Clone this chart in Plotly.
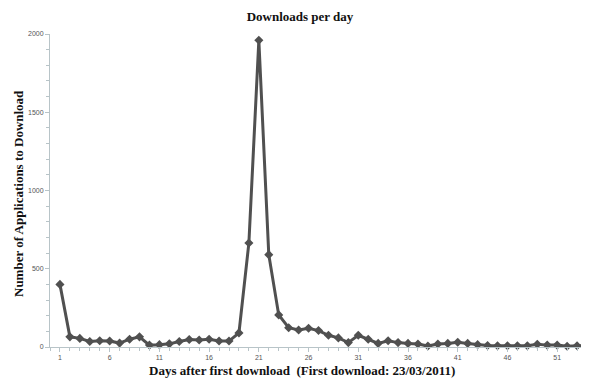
import plotly.graph_objects as go

days = list(range(1, 55))
downloads = [400, 65, 55, 35, 40, 38, 25, 50, 65, 12,
             15, 20, 35, 48, 45, 50, 38, 38, 90, 665,
             1960, 590, 205, 123, 109, 120, 105, 75, 58, 28,
             75, 50, 23, 40, 28, 23, 19, 6, 19, 23,
             30, 23, 15, 10, 8, 8, 8, 8, 18, 12,
             12, 5, 8, 8]

x_tickvals = [1, 6, 11, 16, 21, 26, 31, 36, 41, 46, 51]
y_tickvals = [0, 500, 1000, 1500, 2000]

# page has an 8px body margin; figure sized to fill the rest
W, H = 581, 372

fig = go.Figure()
fig.add_trace(go.Scatter(
    x=days, y=downloads, mode="lines+markers",
    line=dict(color="#505050", width=3),
    marker=dict(symbol="diamond", size=7, color="#505050"),
    cliponaxis=False,
))

tickfont = dict(family="Liberation Sans, Arial, sans-serif", size=7, color="#555555")
titlefont = dict(family="Liberation Serif, Times New Roman, serif", size=13, color="#111111")

fig.update_layout(
    width=W, height=H,
    margin=dict(l=42, r=0, t=26, b=33),
    paper_bgcolor="white", plot_bgcolor="white",
    showlegend=False,
    title=dict(text="<b>Downloads per day</b>", xref="container", x=292 / W, xanchor="center",
               yref="container", y=1 - 8 / H, yanchor="middle",
               font=dict(family="Liberation Serif, Times New Roman, serif", size=13, color="#111111")),
    xaxis=dict(range=[0, 54.2], tickvals=x_tickvals, ticks="outside", ticklen=4,
               tickcolor="#b8c4c8", showline=True, linecolor="#b8c4c8", linewidth=1,
               showgrid=False, zeroline=False, tickfont=tickfont,
               minor=dict(ticks="outside", dtick=1, tick0=0, ticklen=3, tickcolor="#b8c4c8")),
    yaxis=dict(range=[0, 2000], tickvals=y_tickvals, ticks="outside", ticklen=4,
               tickcolor="#b8c4c8", showline=True, linecolor="#b8c4c8", linewidth=1,
               showgrid=False, zeroline=False, tickfont=tickfont,
               minor=dict(ticks="outside", dtick=100, ticklen=3, tickcolor="#b8c4c8")),
    annotations=[
        dict(text="<b>Days after first download  (First download: 23/03/2011)</b>",
             xref="paper", yref="paper", x=(302 - 50) / 539, y=0, yshift=-23,
             xanchor="center", yanchor="middle", showarrow=False, font=titlefont),
        dict(text="<b>Number of Applications to Download</b>",
             xref="paper", yref="paper", x=0, xshift=-32, y=(347 - 194) / 313,
             xanchor="center", yanchor="middle", textangle=-90, showarrow=False, font=titlefont),
    ],
)

fig.write_html("out.html")
